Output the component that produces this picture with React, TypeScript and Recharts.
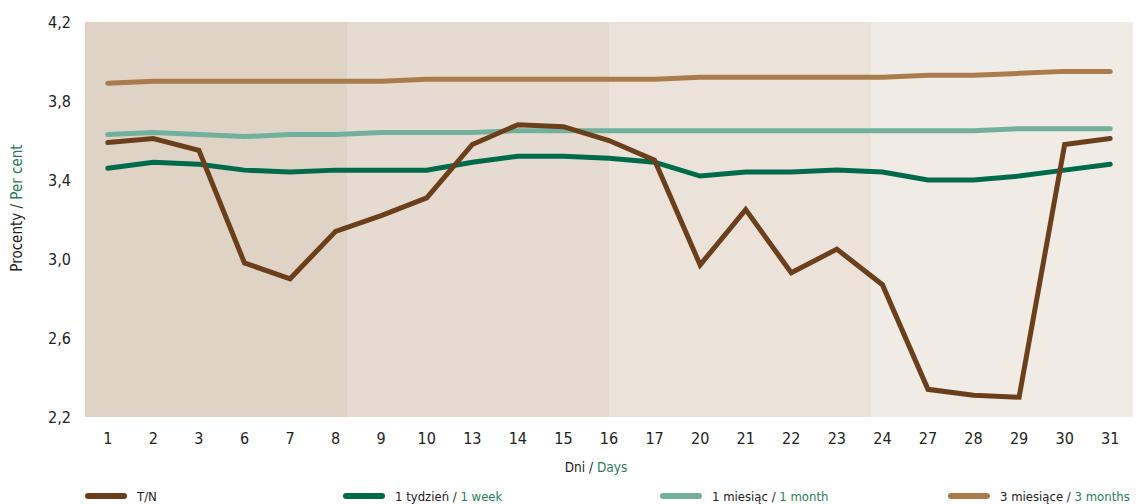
import React from 'react';
import { LineChart, Line, XAxis, YAxis, CartesianGrid, ReferenceArea } from 'recharts';

const days = ['1', '2', '3', '6', '7', '8', '9', '10', '13', '14', '15', '16', '17', '20', '21', '22', '23', '24', '27', '28', '29', '30', '31'];
const tn = [3.59, 3.61, 3.55, 2.98, 2.9, 3.14, 3.22, 3.31, 3.58, 3.68, 3.67, 3.6, 3.5, 2.97, 3.25, 2.93, 3.05, 2.87, 2.34, 2.31, 2.3, 3.58, 3.61];
const week1 = [3.46, 3.49, 3.48, 3.45, 3.44, 3.45, 3.45, 3.45, 3.49, 3.52, 3.52, 3.51, 3.49, 3.42, 3.44, 3.44, 3.45, 3.44, 3.4, 3.4, 3.42, 3.45, 3.48];
const month1 = [3.63, 3.64, 3.63, 3.62, 3.63, 3.63, 3.64, 3.64, 3.64, 3.65, 3.65, 3.65, 3.65, 3.65, 3.65, 3.65, 3.65, 3.65, 3.65, 3.65, 3.66, 3.66, 3.66];
const month3 = [3.89, 3.9, 3.9, 3.9, 3.9, 3.9, 3.9, 3.91, 3.91, 3.91, 3.91, 3.91, 3.91, 3.92, 3.92, 3.92, 3.92, 3.92, 3.93, 3.93, 3.94, 3.95, 3.95];
const yTicks = [2.2, 2.6, 3.0, 3.4, 3.8, 4.2];

const data = days.map((d, i) => ({ day: d, tn: tn[i], w1: week1[i], m1: month1[i], m3: month3[i] }));

const FONT = "'DejaVu Sans Condensed', 'DejaVu Sans', sans-serif";
const GREEN_TXT = '#2b7c5c';

// tła kolejnych ćwiartek wykresu
const bands = ['#dfd3c6', '#e5dbd0', '#ebe3da', '#f0ebe5'];

const legendItems = [
  { pl: 'T/N', en: '', color: '#6b3f1b', left: 85 },
  { pl: '1 tydzień / ', en: '1 week', color: '#006b4b', left: 343 },
  { pl: '1 miesiąc / ', en: '1 month', color: '#73b09b', left: 660 },
  { pl: '3 miesiące / ', en: '3 months', color: '#ab7c4b', left: 948 },
];

const App: React.FC = () => {
  return (
    <div style={{ position: 'relative', width: 1136, height: 504, fontFamily: FONT, overflow: 'hidden' }}>
      <style>{'body{margin:0}'}</style>
      <LineChart width={1136} height={504} data={data} margin={{ top: 22, right: 3, bottom: 57, left: 0 }}>
        <XAxis xAxisId="bg" type="number" dataKey="q" scale="linear" domain={[0, 4]} hide allowDataOverflow />
        {bands.map((c, i) => (
          <ReferenceArea key={i} xAxisId="bg" x1={i} x2={i + 1} y1={2.2} y2={4.2} fill={c} fillOpacity={1} stroke="none" ifOverflow="visible" />
        ))}
        <CartesianGrid vertical={false} stroke="#ffffff" strokeWidth={2} />
        <XAxis
          dataKey="day"
          scale="band"
          axisLine={false}
          tickLine={false}
          height={30}
          tickMargin={10}
          interval={0}
          tick={{ fontSize: 16, fill: '#222', fontFamily: FONT }}
        />
        <YAxis
          domain={[2.2, 4.2]}
          ticks={yTicks}
          width={85}
          axisLine={false}
          tickLine={false}
          tickMargin={8}
          tickFormatter={(v: number) => v.toFixed(1).replace('.', ',')}
          tick={{ fontSize: 16, fill: '#222', fontFamily: FONT }}
        />
        <Line dataKey="m3" stroke="#ab7c4b" strokeWidth={5} dot={false} strokeLinecap="round" isAnimationActive={false} />
        <Line dataKey="m1" stroke="#73b09b" strokeWidth={5} dot={false} strokeLinecap="round" isAnimationActive={false} />
        <Line dataKey="w1" stroke="#006b4b" strokeWidth={5} dot={false} strokeLinecap="round" isAnimationActive={false} />
        <Line dataKey="tn" stroke="#6b3f1b" strokeWidth={5} dot={false} strokeLinecap="round" isAnimationActive={false} />
      </LineChart>

      <div style={{ position: 'absolute', left: 17, top: 208, transform: 'translate(-50%, -50%) rotate(-90deg)', whiteSpace: 'nowrap', fontSize: 15, color: '#222' }}>
        Procenty / <span style={{ color: GREEN_TXT }}>Per cent</span>
      </div>

      <div style={{ position: 'absolute', left: 596, top: 467, transform: 'translate(-50%, -50%)', whiteSpace: 'nowrap', fontSize: 13.5, color: '#222' }}>
        Dni / <span style={{ color: GREEN_TXT }}>Days</span>
      </div>

      {legendItems.map((it) => (
        <div key={it.pl} style={{ position: 'absolute', left: it.left, top: 485, height: 22, display: 'flex', alignItems: 'center', whiteSpace: 'nowrap', fontSize: 13, color: '#222' }}>
          <span style={{ display: 'inline-block', width: 42, height: 6, borderRadius: 3, background: it.color, marginRight: 10 }} />
          <span>
            {it.pl}
            {it.en && <span style={{ color: GREEN_TXT }}>{it.en}</span>}
          </span>
        </div>
      ))}
    </div>
  );
};

export default App;
